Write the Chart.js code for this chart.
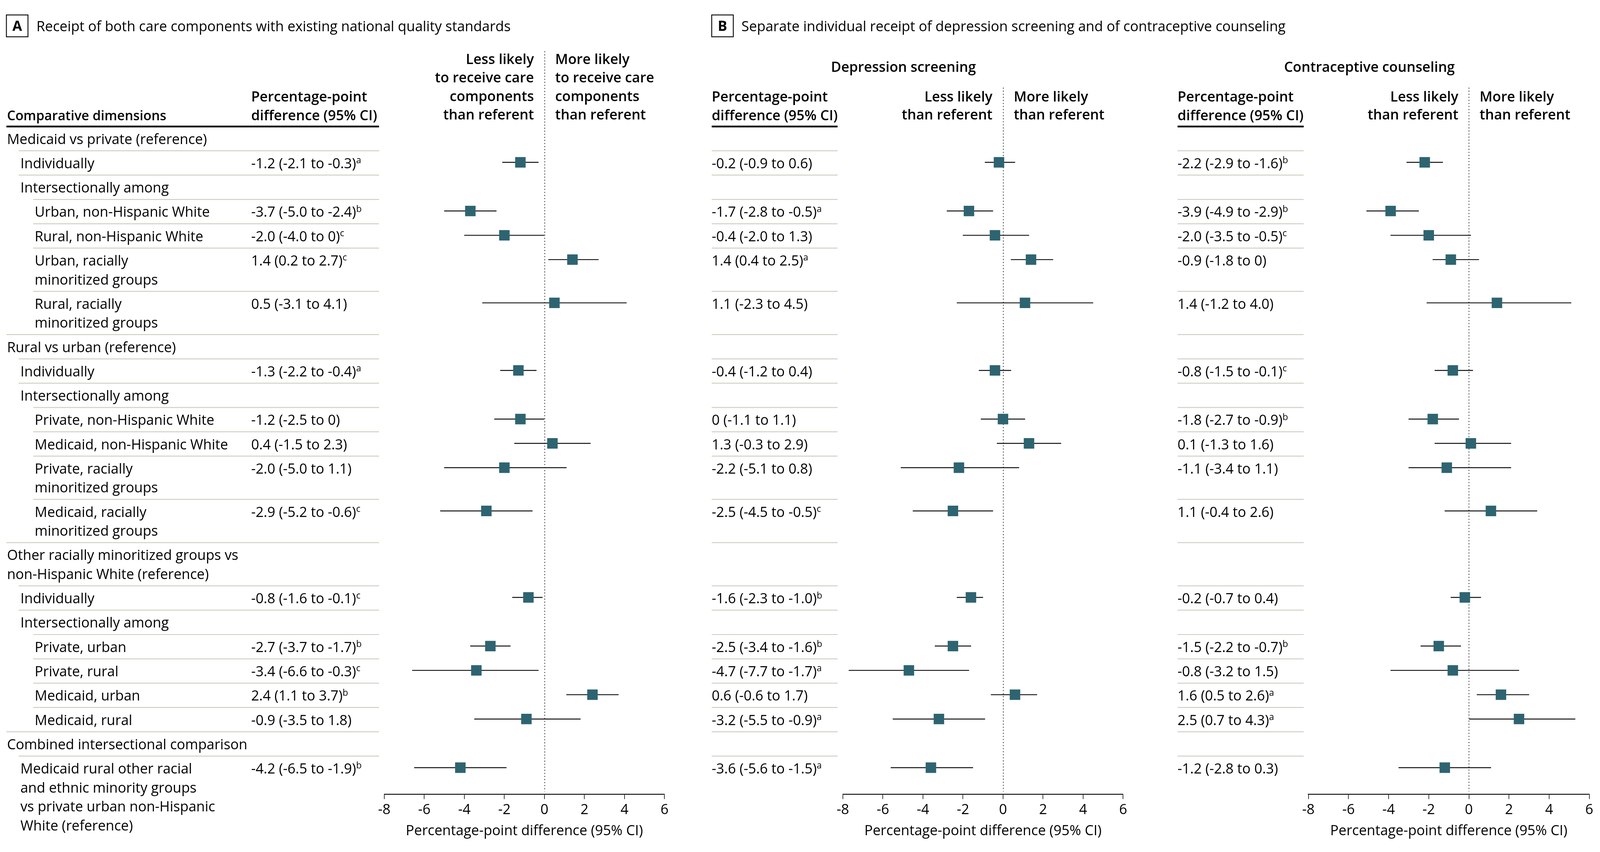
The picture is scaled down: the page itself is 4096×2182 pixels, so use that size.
<!DOCTYPE html>
<html>
<head>
<meta charset="utf-8">
<title>Receipt of care components, forest plot</title>
<script src="https://cdn.jsdelivr.net/npm/chart.js@4.4.1/dist/chart.umd.min.js"></script>
<style>
  html, body { margin: 0; padding: 0; background: #fff; }
  #page { position: relative; width: 4096px; height: 2182px; overflow: hidden; background: #fff; }
  #page canvas { position: absolute; z-index: 1; }
  #labels { position: absolute; left: 0; top: 0; width: 4096px; height: 2182px; z-index: 2; pointer-events: none; }
</style>
</head>
<body>
<div id="page">
  <svg id="labels" viewBox="0 0 5492 2925" font-family="'Open Sans', sans-serif" font-size="48" fill="#000"></svg>
</div>
<script>
// rows of the table, top to bottom ("\n" = line break in the label)
const rowLabels = [
    'Medicaid vs private (reference)',
    'Individually',
    'Intersectionally among',
    'Urban, non-Hispanic White',
    'Rural, non-Hispanic White',
    'Urban, racially\nminoritized groups',
    'Rural, racially\nminoritized groups',
    'Rural vs urban (reference)',
    'Individually',
    'Intersectionally among',
    'Private, non-Hispanic White',
    'Medicaid, non-Hispanic White',
    'Private, racially\nminoritized groups',
    'Medicaid, racially\nminoritized groups',
    'Other racially minoritized groups vs\nnon-Hispanic White (reference)',
    'Individually',
    'Intersectionally among',
    'Private, urban',
    'Private, rural',
    'Medicaid, urban',
    'Medicaid, rural',
    'Combined intersectional comparison',
    'Medicaid rural other racial\nand ethnic minority groups\nvs private urban non-Hispanic\nWhite (reference)'
];
const rowLevels = [0, 1, 1, 2, 2, 2, 2, 0, 1, 1, 2, 2, 2, 2, 0, 1, 1, 2, 2, 2, 2, 0, 1];

// A - both care components
const bothEst  = [null, -1.2, null, -3.7, -2.0, 1.4, 0.5, null, -1.3, null, -1.2, 0.4, -2.0, -2.9, null, -0.8, null, -2.7, -3.4, 2.4, -0.9, null, -4.2];
const bothLow  = [null, -2.1, null, -5.0, -4.0, 0.2, -3.1, null, -2.2, null, -2.5, -1.5, -5.0, -5.2, null, -1.6, null, -3.7, -6.6, 1.1, -3.5, null, -6.5];
const bothHigh = [null, -0.3, null, -2.4, 0, 2.7, 4.1, null, -0.4, null, 0, 2.3, 1.1, -0.6, null, -0.1, null, -1.7, -0.3, 3.7, 1.8, null, -1.9];
const bothNote = [null, 'a', null, 'b', 'c', 'c', '', null, 'a', null, '', '', '', 'c', null, 'c', null, 'b', 'c', 'b', '', null, 'b'];

// B - depression screening
const depEst  = [null, -0.2, null, -1.7, -0.4, 1.4, 1.1, null, -0.4, null, 0, 1.3, -2.2, -2.5, null, -1.6, null, -2.5, -4.7, 0.6, -3.2, null, -3.6];
const depLow  = [null, -0.9, null, -2.8, -2.0, 0.4, -2.3, null, -1.2, null, -1.1, -0.3, -5.1, -4.5, null, -2.3, null, -3.4, -7.7, -0.6, -5.5, null, -5.6];
const depHigh = [null, 0.6, null, -0.5, 1.3, 2.5, 4.5, null, 0.4, null, 1.1, 2.9, 0.8, -0.5, null, -1.0, null, -1.6, -1.7, 1.7, -0.9, null, -1.5];
const depNote = [null, '', null, 'a', '', 'a', '', null, '', null, '', '', '', 'c', null, 'b', null, 'b', 'a', '', 'a', null, 'a'];

// B - contraceptive counseling
const conEst  = [null, -2.2, null, -3.9, -2.0, -0.9, 1.4, null, -0.8, null, -1.8, 0.1, -1.1, 1.1, null, -0.2, null, -1.5, -0.8, 1.6, 2.5, null, -1.2];
const conLow  = [null, -2.9, null, -4.9, -3.5, -1.8, -1.2, null, -1.5, null, -2.7, -1.3, -3.4, -0.4, null, -0.7, null, -2.2, -3.2, 0.5, 0.7, null, -2.8];
const conHigh = [null, -1.6, null, -2.9, -0.5, 0, 4.0, null, -0.1, null, -0.9, 1.6, 1.1, 2.6, null, 0.4, null, -0.7, 1.5, 2.6, 4.3, null, 0.3];
const conNote = [null, 'b', null, 'b', 'c', '', '', null, 'c', null, 'b', '', '', '', null, '', null, 'b', '', 'a', 'a', null, ''];
// whiskers as drawn in this panel of the figure (wider than the printed CIs)
const conLineLow  = [null, -3.1, null, -5.1, -3.9, -1.8, -2.1, null, -1.7, null, -3.0, -1.7, -3.0, -1.2, null, -0.9, null, -2.4, -3.9, 0.4, 0.0, null, -3.5];
const conLineHigh = [null, -1.3, null, -2.5, 0.1, 0.5, 5.1, null, 0.2, null, -0.5, 2.1, 2.1, 3.4, null, 0.6, null, -0.4, 2.5, 3.0, 5.3, null, 1.1];

const xTicks = [-8, -6, -4, -2, 0, 2, 4, 6];
const axisTitle = 'Percentage-point difference (95% CI)';

// ---------- layout, in reference pixels (5492 x 2925) ----------
const S = 4096 / 5492;
const HEAD_Y = 434, AXIS_Y = 2727;
const ROW_H = 83.5, LINE_H = 65;
const BASE_DY = 60, MARK_DY = 40;
const FONT = 48, MID = 0.388;          // Open Sans: 'middle' sits 0.388em above the baseline
const TICK_LEN = 17, TICK_BASE = 2801, TITLE_BASE = 2873;
const INDENT = [24, 70, 119], RULE_X = [22, 64, 114];
const TEAL = '#2e6471', RULE = '#c9cebb';

const panels = [
    { est: bothEst, low: bothLow, high: bothHigh, note: bothNote, axis: [1319, 2281], textX: 862,
      headFrom: 22, headTo: 1301, rules: false, dotTop: 176,
      less: ['Less likely', 'to receive care', 'components', 'than referent'],
      more: ['More likely', 'to receive care', 'components', 'than referent'], hintY: 219 },
    { est: depEst, low: depLow, high: depHigh, note: depNote, axis: [2893, 3855], textX: 2443,
      headFrom: 2443, headTo: 2875, rules: true, dotTop: 301, name: 'Depression screening',
      less: ['Less likely', 'than referent'], more: ['More likely', 'than referent'], hintY: 348 },
    { est: conEst, low: conLow, high: conHigh, note: conNote, lineLow: conLineLow, lineHigh: conLineHigh,
      axis: [4491, 5455], textX: 4042,
      headFrom: 4042, headTo: 4475, rules: true, dotTop: 301, name: 'Contraceptive counseling',
      less: ['Less likely', 'than referent'], more: ['More likely', 'than referent'], hintY: 348 }
];

const fmt = v => (v === 0 ? '0' : v.toFixed(1));

const rowTops = [];
let yAcc = HEAD_Y;
rowLabels.forEach(lbl => {
    rowTops.push(yAcc);
    yAcc += ROW_H + (lbl.split('\n').length - 1) * LINE_H;
});

// ---------- svg text and rules ----------
const NS = 'http://www.w3.org/2000/svg';
const svg = document.getElementById('labels');

function text(x, y, str, weight, anchor, size) {
    const t = document.createElementNS(NS, 'text');
    t.setAttribute('x', x);
    t.setAttribute('y', y);
    if (weight) t.setAttribute('font-weight', weight);
    if (anchor) t.setAttribute('text-anchor', anchor);
    if (size) t.setAttribute('font-size', size);
    t.textContent = str;
    svg.appendChild(t);
    return t;
}

function sup(t, letter) {
    const s = document.createElementNS(NS, 'tspan');
    s.setAttribute('dy', -17);
    s.setAttribute('font-size', 31);
    s.textContent = letter;
    t.appendChild(s);
}

function line(x1, x2, y, color, width) {
    const l = document.createElementNS(NS, 'line');
    l.setAttribute('x1', x1); l.setAttribute('x2', x2);
    l.setAttribute('y1', y); l.setAttribute('y2', y);
    l.setAttribute('stroke', color);
    l.setAttribute('stroke-width', width);
    svg.appendChild(l);
}

function box(x, y, letter) {
    const r = document.createElementNS(NS, 'rect');
    r.setAttribute('x', x); r.setAttribute('y', y);
    r.setAttribute('width', 74); r.setAttribute('height', 75);
    r.setAttribute('fill', 'none'); r.setAttribute('stroke', '#000'); r.setAttribute('stroke-width', 3);
    svg.appendChild(r);
    text(x + 37, y + 54, letter, 700, 'middle');
}

box(22, 51, 'A');
text(125, 107, 'Receipt of both care components with existing national quality standards');
box(2443, 51, 'B');
text(2545, 107, 'Separate individual receipt of depression screening and of contraceptive counseling');

text(24, 413, 'Comparative dimensions', 600, null, 45.5);

rowLabels.forEach((lbl, i) => {
    lbl.split('\n').forEach((ln, k) => text(INDENT[rowLevels[i]], rowTops[i] + BASE_DY + k * LINE_H, ln));
    if (i > 0) line(RULE_X[rowLevels[i]], panels[0].headTo, rowTops[i], RULE, 3);
});

panels.forEach(p => {
    const zero = p.axis[0] + (0 - xTicks[0]) / (xTicks[xTicks.length - 1] - xTicks[0]) * (p.axis[1] - p.axis[0]);
    if (p.name) text((p.headFrom + p.axis[1]) / 2 - 48, 246, p.name, 600, 'middle');
    text(p.textX, 348, 'Percentage-point', 600);
    text(p.textX, 413, 'difference (95% CI)', 600);
    const step = p.less.length > 2 ? 63.7 : 62;
    p.less.forEach((s, k) => text(zero - 36, p.hintY + k * step, s, 600, 'end'));
    p.more.forEach((s, k) => text(zero + 37, p.hintY + k * step, s, 600));
    line(p.headFrom, p.headTo, HEAD_Y, '#000', 6);

    p.est.forEach((v, i) => {
        if (p.rules && i > 0) line(p.headFrom, p.headTo, rowTops[i], RULE, 3);
        if (v === null) return;
        const t = text(p.textX, rowTops[i] + BASE_DY, `${fmt(v)} (${fmt(p.low[i])} to ${fmt(p.high[i])})`);
        if (p.note[i]) sup(t, p.note[i]);
    });
});

// ---------- charts ----------
const zeroLine = {
    id: 'zeroLine',
    beforeDatasetsDraw(chart, args, opts) {
        const {ctx, chartArea, scales: {x}} = chart;
        const px = Math.round(x.getPixelForValue(0)) + 0.5;
        ctx.save();
        ctx.strokeStyle = '#000';
        ctx.lineWidth = 2.2 * S;
        ctx.setLineDash([3.5 * S, 7 * S]);
        ctx.beginPath();
        ctx.moveTo(px, opts.top);
        ctx.lineTo(px, chartArea.bottom - 9 * S);
        ctx.stroke();
        ctx.restore();
    }
};

const page = document.getElementById('page');

panels.forEach(p => {
    const padX = 70;
    const left = Math.round((p.axis[0] - padX) * S);
    const right = Math.round((p.axis[1] + padX) * S);
    const top = Math.round(150 * S);
    const bottom = Math.round(2910 * S);
    const w = right - left, h = bottom - top;

    const cv = document.createElement('canvas');
    cv.width = w; cv.height = h;
    cv.style.left = left + 'px'; cv.style.top = top + 'px';
    cv.style.width = w + 'px'; cv.style.height = h + 'px';
    page.appendChild(cv);

    const fs = FONT * S;
    const lh = fs * 1.2;
    const axisH = bottom - AXIS_Y * S;
    const yMax = (AXIS_Y - HEAD_Y) / ROW_H;
    const lo = p.lineLow || p.low, hi = p.lineHigh || p.high;

    const points = [], bars = [];
    p.est.forEach((v, i) => {
        if (v === null) return;
        const y = (rowTops[i] - HEAD_Y + MARK_DY) / ROW_H;
        points.push({x: v, y: y});
        bars.push({x: [lo[i], hi[i]], y: y});
    });

    new Chart(cv, {
        type: 'scatter',
        data: {
            datasets: [
                {
                    type: 'scatter', data: points, order: 0,
                    pointStyle: 'rect', pointRadius: 36 * S / (2 * Math.SQRT1_2),
                    backgroundColor: TEAL, borderWidth: 0
                },
                {
                    type: 'bar', data: bars, order: 1, indexAxis: 'y',
                    barThickness: 2.4 * S, backgroundColor: '#111', borderWidth: 0
                }
            ]
        },
        options: {
            responsive: false,
            animation: false,
            events: [],
            layout: { padding: { left: p.axis[0] * S - left, right: right - p.axis[1] * S, top: HEAD_Y * S - top, bottom: 0 } },
            plugins: {
                legend: { display: false },
                tooltip: { enabled: false },
                zeroLine: { top: p.dotTop * S - top }
            },
            scales: {
                x: {
                    type: 'linear', min: xTicks[0], max: xTicks[xTicks.length - 1], offset: false,
                    afterBuildTicks: axis => { axis.ticks = xTicks.map(v => ({value: v})); },
                    afterFit: axis => { axis.height = axisH; },
                    ticks: {
                        color: '#000', font: { family: 'Open Sans', size: fs },
                        padding: (TICK_BASE - AXIS_Y - TICK_LEN) * S - lh / 2 - MID * fs,
                        maxRotation: 0
                    },
                    grid: { drawOnChartArea: false, drawTicks: true, tickLength: TICK_LEN * S, color: '#000', lineWidth: 2 * S },
                    border: { display: true, color: '#000', width: 3 * S },
                    title: {
                        display: true, text: axisTitle, color: '#000',
                        font: { family: 'Open Sans', size: fs },
                        padding: { top: 0, bottom: bottom - (TITLE_BASE * S - MID * fs) - lh / 2 }
                    }
                },
                y: { type: 'linear', display: false, reverse: true, offset: false, min: 0, max: yMax }
            }
        },
        plugins: [zeroLine]
    });
});
</script>
</body>
</html>
